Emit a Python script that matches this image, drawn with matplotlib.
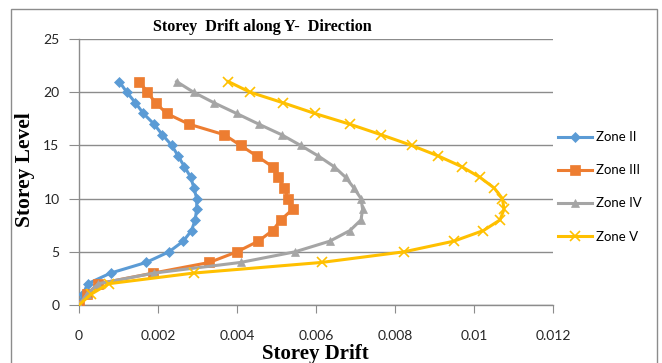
import numpy as np
import matplotlib.pyplot as plt
from matplotlib.patches import Rectangle

# storey levels (ground = 0 to roof = 21)
niveles = np.arange(0, 22)

# storey drift along Y for each seismic zone
zona_2 = [0, 0.0001, 0.00022, 0.0008, 0.0017, 0.00228, 0.00264, 0.00285,
          0.00294, 0.00298, 0.00298, 0.00291, 0.00283, 0.00267, 0.00251,
          0.00235, 0.00211, 0.0019, 0.00163, 0.00143, 0.00121, 0.00102]
zona_3 = [0, 0.0002, 0.00049, 0.00188, 0.0033, 0.004, 0.00454, 0.0049,
          0.00511, 0.00541, 0.0053, 0.00519, 0.00505, 0.0049, 0.0045,
          0.00409, 0.00368, 0.00278, 0.00222, 0.00194, 0.00173, 0.00153]
zona_4 = [0, 0.0002, 0.00049, 0.0019, 0.00409, 0.00547, 0.00635, 0.00686,
          0.00714, 0.00718, 0.00714, 0.00696, 0.00675, 0.00646, 0.00606,
          0.00561, 0.00513, 0.00455, 0.00399, 0.00342, 0.0029, 0.00247]
zona_5 = [0, 0.0003, 0.00075, 0.0029, 0.00614, 0.00823, 0.00949, 0.01024,
          0.01066, 0.01076, 0.01072, 0.01051, 0.01015, 0.00969, 0.0091,
          0.00842, 0.00765, 0.00685, 0.00597, 0.00517, 0.00433, 0.00378]

etiquetas = ['Zone II', 'Zone III', 'Zone IV', 'Zone V']
colores = ['#5B9BD5', '#ED7D31', '#A5A5A5', '#FFC000']
marcas = ['D', 's', '^', 'x']
tam_marca = [5, 7, 6, 7]

xticks = [0, 0.002, 0.004, 0.006, 0.008, 0.01, 0.012]
xtick_txt = ['0', '0.002', '0.004', '0.006', '0.008', '0.01', '0.012']
yticks = [0, 5, 10, 15, 20, 25]

fuente_ejes = 'Lato'
fuente_titulo = 'Liberation Serif'

W, H = 662, 363
fig = plt.figure(figsize=(W/100, H/100), dpi=100)
ax = fig.add_axes([79/W, 1 - 305/H, (553-79)/W, (305-39)/H])

for datos, lab, col, m, ms in zip([zona_2, zona_3, zona_4, zona_5],
                                  etiquetas, colores, marcas, tam_marca):
    ax.plot(datos, niveles, color=col, lw=2.2, marker=m, markersize=ms,
            markeredgewidth=1.2 if m == 'x' else 0.5, label=lab, zorder=3)

ax.set_xlim(0, 0.012)
ax.set_ylim(0, 25)
ax.set_xticks(xticks)
ax.set_xticklabels(xtick_txt)
ax.set_yticks(yticks)
ax.grid(axis='y', color='#8C8C8C', lw=1)
ax.set_axisbelow(True)

for lado in ['top', 'right']:
    ax.spines[lado].set_visible(False)
for lado in ['left', 'bottom']:
    ax.spines[lado].set_color('#8C8C8C')
    ax.spines[lado].set_linewidth(1)

ax.tick_params(axis='y', length=7, color='#8C8C8C', pad=7, labelsize=10)
ax.tick_params(axis='x', length=6, color='#8C8C8C', pad=12, labelsize=10)
for t in ax.get_xticklabels() + ax.get_yticklabels():
    t.set_fontfamily(fuente_ejes)
    t.set_color('#262626')

# title and axis titles
fig.text(262/W, 1 - 27/H, 'Storey  Drift along Y-  Direction',
         fontfamily=fuente_titulo, fontweight='bold', fontsize=11.6,
         ha='center', va='center')
fig.text(315/W, 1 - 354/H, 'Storey Drift', fontfamily=fuente_titulo,
         fontweight='bold', fontsize=15, ha='center', va='center')
fig.text(25/W, 1 - 170/H, 'Storey Level', fontfamily=fuente_titulo,
         fontweight='bold', fontsize=15.5, ha='center', va='center',
         rotation=90)

ley = ax.legend(loc='center left', bbox_to_anchor=(0.985, 0.444), frameon=False,
                prop={'family': fuente_ejes, 'size': 9.5}, labelspacing=1.6,
                handlelength=2.6, handletextpad=0.3)

# chart area border
fig.patches.append(Rectangle((11/W, -0.05), (657-11)/W, 1 - 9/H + 0.05,
                             transform=fig.transFigure, fill=False,
                             edgecolor='#8C8C8C', lw=1))

fig.savefig('out.png', dpi=100)
